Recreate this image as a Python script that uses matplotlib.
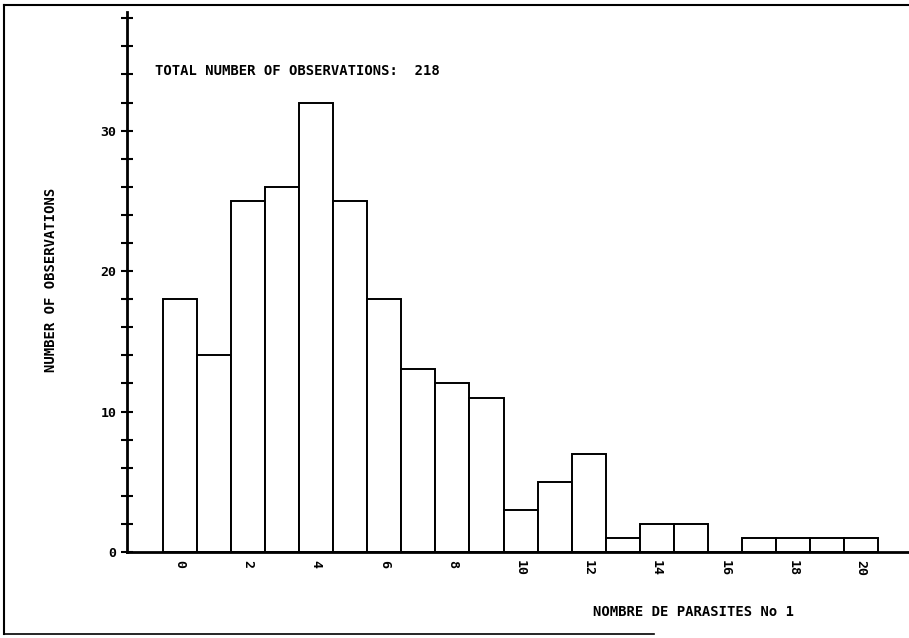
import matplotlib
matplotlib.use("Agg")
import matplotlib.pyplot as plt
from matplotlib.lines import Line2D

parasites = list(range(0, 21))
counts = [18, 14, 25, 26, 32, 25, 18, 13, 12, 11, 3, 5, 7, 1, 2, 2, 0, 1, 1, 1, 1]
x_ticks = [0, 2, 4, 6, 8, 10, 12, 14, 16, 18, 20]
y_label_ticks = [0, 10, 20, 30]
y_minor_ticks = list(range(0, 39, 2))
total = sum(counts)

font = {"family": "DejaVu Sans Mono", "weight": "bold", "size": 10}
tfont = {"family": "DejaVu Sans Mono", "weight": "bold", "size": 9.5}

fig = plt.figure(figsize=(9.09, 6.38), dpi=100)
ax = fig.add_axes([127/909, 86/638, 782/909, 540/638])

ax.bar(parasites, counts, width=1.0, facecolor="white", edgecolor="black", linewidth=1.4)

ax.set_xlim(-1.56, 21.41)
ax.set_ylim(0, 38.45)

for s in ["top", "right"]:
    ax.spines[s].set_visible(False)
for s in ["left", "bottom"]:
    ax.spines[s].set_linewidth(2.0)

ax.set_yticks(y_minor_ticks)
ax.set_yticklabels([str(v) if v in y_label_ticks else "" for v in y_minor_ticks], fontdict=tfont)
ax.tick_params(axis="y", direction="inout", length=9, width=1.5, pad=3)

ax.set_xticks(x_ticks)
ax.set_xticklabels([str(v) for v in x_ticks], fontdict=tfont, rotation=-90)
ax.tick_params(axis="x", direction="out", length=0, pad=6)

fig.text(155/909, 1 - 71/638, "TOTAL NUMBER OF OBSERVATIONS:  %d" % total,
         ha="left", va="center", **font)
fig.text(51/909, 1 - 280/638, "NUMBER OF OBSERVATIONS", rotation=90,
         ha="center", va="center", **font)
fig.text(593/909, 1 - 612/638, "NOMBRE DE PARASITES No 1", ha="left", va="center", **font)

# page frame lines
fig.add_artist(Line2D([0.004, 1.0], [1 - 5/638, 1 - 5/638], transform=fig.transFigure, color="black", lw=1.5))
fig.add_artist(Line2D([4/909, 4/909], [1 - 5/638, 1 - 634/638], transform=fig.transFigure, color="black", lw=1.5))
fig.add_artist(Line2D([4/909, 0.72], [1 - 634/638, 1 - 634/638], transform=fig.transFigure, color="black", lw=1.2))

fig.savefig("out.png", dpi=100)
